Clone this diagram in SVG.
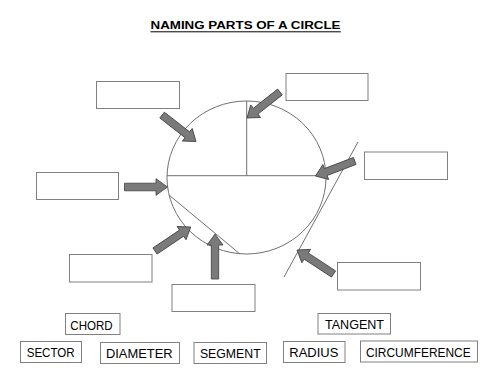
<svg xmlns="http://www.w3.org/2000/svg" width="500" height="375" viewBox="0 0 500 375">
<style>
.box{fill:#fff;stroke:#808080;stroke-width:1}
.ln{fill:none;stroke:#707070;stroke-width:1}
.arr{fill:#7a7a7a;stroke:#404040;stroke-width:0.8}
.lbl{font-family:"Liberation Sans",Arial,sans-serif;font-size:13px;fill:#000;text-anchor:middle}
.ttl{font-family:"Liberation Sans",Arial,sans-serif;font-size:11px;font-weight:bold;fill:#000}
</style>
<rect width="500" height="375" fill="#fff"/>
<g id="title">
<text class="ttl" x="150.5" y="29" textLength="190" lengthAdjust="spacingAndGlyphs">NAMING PARTS OF A CIRCLE</text>
<line x1="150.5" y1="31.8" x2="340.8" y2="31.8" stroke="#000" stroke-width="1"/>
</g>
<g id="circle">
<ellipse class="ln" cx="246.5" cy="177.5" rx="79.5" ry="76.5"/>
<line class="ln" x1="167" y1="175.7" x2="326" y2="175.7"/>
<line class="ln" x1="246.7" y1="101" x2="246.7" y2="175.7"/>
<line class="ln" x1="169" y1="195" x2="240" y2="254"/>
<line class="ln" x1="358" y1="142" x2="284" y2="277"/>
</g>
<g id="connectors">
<path class="arr" d="M0,0 L-11,-8 L-11,-3.7 L-42,-3.7 L-42,3.7 L-11,3.7 L-11,8 Z" transform="translate(247,118) rotate(141.8)"/>
<path class="arr" d="M0,0 L-11,-8 L-11,-3.7 L-43,-3.7 L-43,3.7 L-11,3.7 L-11,8 Z" transform="translate(196,141.5) rotate(37.9)"/>
<path class="arr" d="M0,0 L-11.5,-8.3 L-11.5,-3.8 L-43,-3.8 L-43,3.8 L-11.5,3.8 L-11.5,8.3 Z" transform="translate(167.5,187) rotate(0)"/>
<path class="arr" d="M0,0 L-11,-8 L-11,-3.7 L-42,-3.7 L-42,3.7 L-11,3.7 L-11,8 Z" transform="translate(315.5,176) rotate(159)"/>
<path class="arr" d="M0,0 L-11,-8 L-11,-3.7 L-43,-3.7 L-43,3.7 L-11,3.7 L-11,8 Z" transform="translate(190.7,227) rotate(-33.9)"/>
<path class="arr" d="M0,0 L-11,-8 L-11,-3.7 L-45,-3.7 L-45,3.7 L-11,3.7 L-11,8 Z" transform="translate(215,234) rotate(-90)"/>
<path class="arr" d="M0,0 L-11,-8 L-11,-3.7 L-43.7,-3.7 L-43.7,3.7 L-11,3.7 L-11,8 Z" transform="translate(297,250) rotate(213.3)"/>
</g>
<g id="answer-boxes">
<rect id="box-tl" class="box" x="96.5" y="81.5" width="83" height="27"/>
<rect id="box-tr" class="box" x="286" y="73.5" width="82" height="27"/>
<rect id="box-r" class="box" x="364.5" y="152" width="83" height="27.5"/>
<rect id="box-l" class="box" x="36.5" y="172.5" width="82" height="27"/>
<rect id="box-ll" class="box" x="69.5" y="254.5" width="82.5" height="27.5"/>
<rect id="box-b" class="box" x="172" y="284.5" width="83" height="27"/>
<rect id="box-lr" class="box" x="337.5" y="262.5" width="83" height="27.5"/>
</g>
<g id="word-chord"><rect class="box" x="65.5" y="313.5" width="54.5" height="21"/><text class="lbl" x="91.5" y="329.5" textLength="42.4" lengthAdjust="spacingAndGlyphs">CHORD</text></g>
<g id="word-tangent"><rect class="box" x="318" y="313.5" width="72.5" height="20.5"/><text class="lbl" x="354.5" y="329.3" textLength="59" lengthAdjust="spacingAndGlyphs">TANGENT</text></g>
<g id="word-sector"><rect class="box" x="20.5" y="341.5" width="61" height="21"/><text class="lbl" x="50.7" y="357.3" textLength="48" lengthAdjust="spacingAndGlyphs">SECTOR</text></g>
<g id="word-diameter"><rect class="box" x="100.5" y="342.5" width="79" height="21"/><text class="lbl" x="139.3" y="358.3" textLength="66.7" lengthAdjust="spacingAndGlyphs">DIAMETER</text></g>
<g id="word-segment"><rect class="box" x="194" y="342.5" width="72.5" height="21"/><text class="lbl" x="230.3" y="358.3" textLength="60.7" lengthAdjust="spacingAndGlyphs">SEGMENT</text></g>
<g id="word-radius"><rect class="box" x="283.5" y="341.5" width="61.5" height="21"/><text class="lbl" x="313.8" y="357.3" textLength="49" lengthAdjust="spacingAndGlyphs">RADIUS</text></g>
<g id="word-circumference"><rect class="box" x="360.5" y="341" width="117" height="21"/><text class="lbl" x="418.3" y="356.7" textLength="104.7" lengthAdjust="spacingAndGlyphs">CIRCUMFERENCE</text></g>
</svg>
